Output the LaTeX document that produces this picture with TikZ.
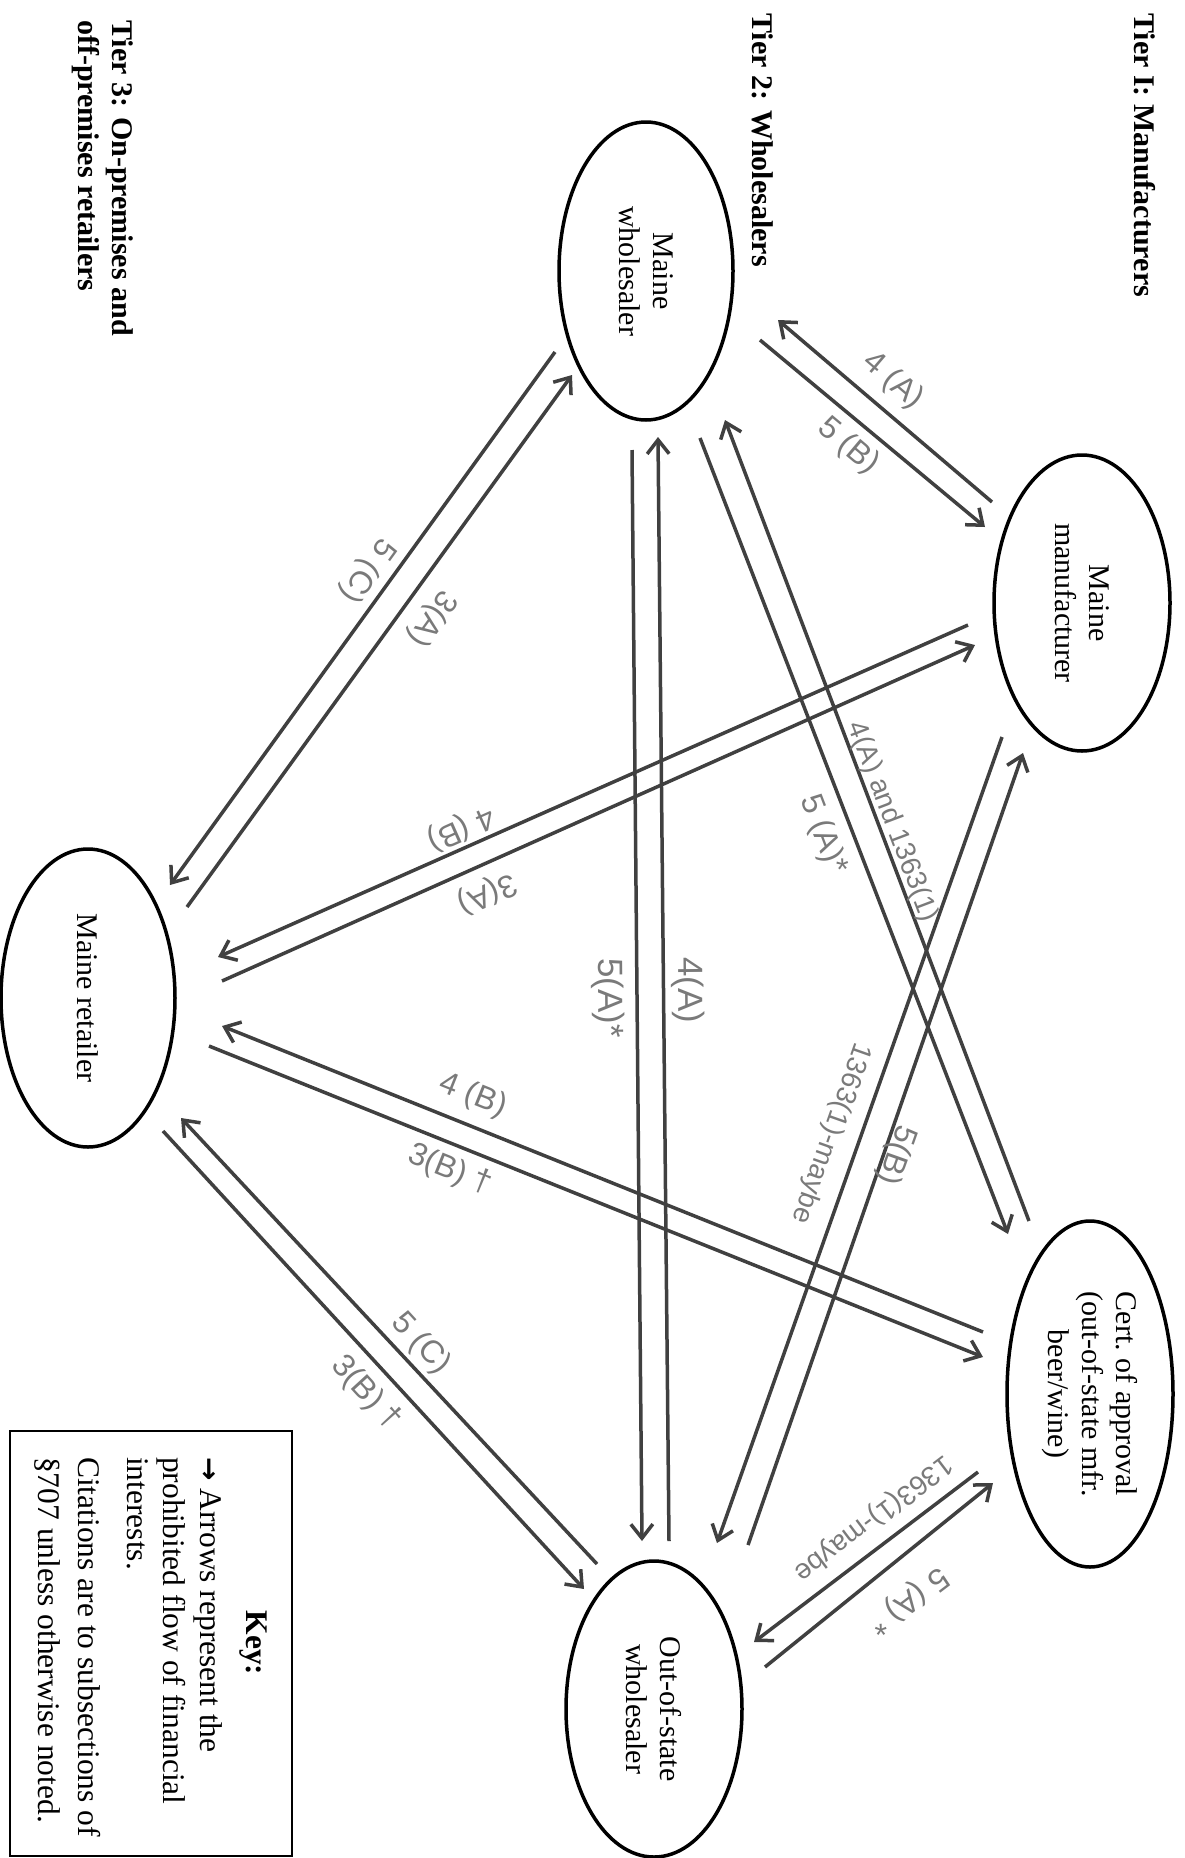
\documentclass[tikz,border=0pt]{standalone}
\usepackage{fontspec}
\setmainfont{Liberation Serif}
\newfontfamily\hand{Liberation Sans}
\newfontfamily\symf{DejaVu Sans}
\usetikzlibrary{shapes.geometric,arrows.meta}
\begin{document}
\begin{tikzpicture}[x=1pt,y=-1pt,
  ent/.style={draw=black, line width=3.5pt, ellipse, rotate=-90, inner sep=0pt,
    align=center, font=\fontsize{30}{34}\selectfont},
  flow/.style={draw=black!75, line width=3.5pt,
    -{Straight Barb[length=14pt,width=22pt,line width=3.5pt]}},
  lab/.style={text=black!52, font=\hand\fontsize{32}{32}\selectfont, inner sep=0pt},
  lablong/.style={lab, font=\hand\fontsize{28}{28}\selectfont},
  labbig/.style={lab, font=\hand\fontsize{35}{35}\selectfont},
  tier/.style={rotate=-90, font=\bfseries\fontsize{30}{34}\selectfont, inner sep=0pt, anchor=base west},
  keyt/.style={rotate=-90, font=\fontsize{31.5}{36}\selectfont, inner sep=0pt, anchor=base west},
]
\useasboundingbox (0,0) rectangle (1185,1858);

% tier headings
\node[tier] (t1) at (1134,13) {Tier I: Manufacturers};
\node[tier] (t2) at (752,13) {Tier 2: Wholesalers};
\node[tier] (t3) at (112,20) {Tier 3: On-premises and};
\node[tier] (t3b) at (78,20) {off-premises retailers};

% entities
\node[ent, minimum width=298pt, minimum height=174pt] (mw) at (646,271) {Maine\\wholesaler};
\node[ent, minimum width=296pt, minimum height=176pt] (mm) at (1082,603) {Maine\\manufacturer};
\node[ent, minimum width=298pt, minimum height=174pt] (mr) at (88,998) {Maine retailer};
\node[ent, minimum width=346pt, minimum height=166pt] (ca) at (1090,1394) {Cert.\ of approval\\(out-of-state mfr.\\beer/wine)};
\node[ent, minimum width=296pt, minimum height=176pt] (ow) at (654,1709) {Out-of-state\\wholesaler};

% connector end points
\coordinate (a1s) at (760,340);   \coordinate (a1e) at (985,527);
\coordinate (a2s) at (992,502);   \coordinate (a2e) at (778,320);
\coordinate (b1s) at (555,352);   \coordinate (b1e) at (170,885);
\coordinate (b2s) at (187,907);   \coordinate (b2e) at (572,375);
\coordinate (c1s) at (968,625);   \coordinate (c1e) at (218,957);
\coordinate (c2s) at (222,981);   \coordinate (c2e) at (975,645);
\coordinate (d1s) at (983,1332);  \coordinate (d1e) at (222,1026);
\coordinate (d2s) at (209,1046);  \coordinate (d2e) at (983,1357);
\coordinate (e1s) at (597,1564);  \coordinate (e1e) at (181,1118);
\coordinate (e2s) at (163,1131);  \coordinate (e2e) at (584,1589);
\coordinate (f1s) at (632,450);   \coordinate (f1e) at (642,1541);
\coordinate (f2s) at (669,1541);  \coordinate (f2e) at (658,437);
\coordinate (g1s) at (700,438);   \coordinate (g1e) at (1008,1234);
\coordinate (g2s) at (1029,1221); \coordinate (g2e) at (725,420);
\coordinate (h1s) at (1002,737);  \coordinate (h1e) at (717,1543);
\coordinate (h2s) at (748,1545);  \coordinate (h2e) at (1023,753);
\coordinate (i1s) at (978,1472);  \coordinate (i1e) at (754,1642);
\coordinate (i2s) at (765,1667);  \coordinate (i2e) at (993,1483);

% connectors
\foreach \p in {a1,a2,b1,b2,c1,c2,d1,d2,e1,e2,f1,f2,g1,g2,h1,h2,i1,i2}
  \draw[flow] (\p s) -- (\p e);

% labels
\node[lab, rotate=-40.4] (l1) at (893,381) {4 (A)};
\node[lab, rotate=-40] (l2) at (848,446) {5 (B)};
\node[lab, rotate=-125.8] (l3) at (367,570) {5 (C)};
\node[lab, rotate=-125.8] (l4) at (432,618) {3(A)};
\node[lab, rotate=-156] (l5) at (461,828) {4 (B)};
\node[lab, rotate=-156] (l6) at (487,893) {3(A)};
\node[lablong, rotate=-69.2] (l7) at (892,822) {4(A) and 1363(1)};
\node[lab, rotate=-69] (l8) at (823,835) {5 (A)*};
\node[labbig, rotate=-89.5] (l9) at (608,998) {5(A)*};
\node[labbig, rotate=-89.5] (l10) at (688,990) {4(A)};
\node[lablong, rotate=-109.5] (l11) at (831,1133) {1363(1)-maybe};
\node[lab, rotate=-109.5] (l12) at (896,1155) {5(B)};
\node[lab, rotate=-21.9] (l13) at (473,1096) {4 (B)};
\node[lab, rotate=-21.9] (l14) at (450,1170) {3(B) †};
\node[lab, rotate=-47.5] (l15) at (421,1344) {5 (C)};
\node[lab, rotate=-47.5] (l16) at (366,1393) {3(B) †};
\node[lablong, rotate=-142.8] (l17) at (873,1518) {1363(1)-maybe};
\node[lab, rotate=-142.8] (l18) at (908,1600) {5 (A) *};

% key
\node[draw=black, line width=2pt, minimum width=282pt, minimum height=425pt, inner sep=0pt] (key) at (151,1643.5) {};
\node[keyt, font=\bfseries\fontsize{31.5}{36}\selectfont, anchor=base] (kh) at (246,1643) {Key:};
\node[keyt] (k1) at (200,1457) {{\symf\bfseries\fontsize{28}{28}\selectfont →} Arrows represent the};
\node[keyt] (k2) at (163,1457) {prohibited flow of financial};
\node[keyt] (k3) at (127,1457) {interests.};
\node[keyt] (k4) at (78,1457) {Citations are to subsections of};
\node[keyt] (k5) at (38,1457) {§707 unless otherwise noted.};
\end{tikzpicture}
\end{document}
